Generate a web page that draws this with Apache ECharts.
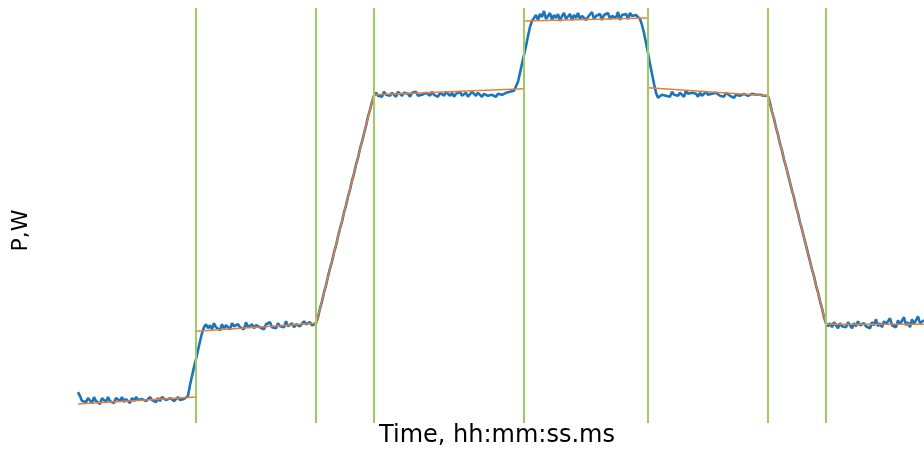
<!DOCTYPE html>
<html>
<head>
<meta charset="utf-8">
<title>P,W</title>
<script src="https://cdn.jsdelivr.net/npm/echarts@6/dist/echarts.min.js"></script>
<style>
  html, body { margin: 0; padding: 0; background: #ffffff; }
  #chart { width: 924px; height: 453px; }
</style>
</head>
<body>
<div id="chart"></div>
<script>
// Power trace, one sample every 20 ms, split by load phase (W)
const sampleMs = 20;
const idleLow   = [31, 27, 22, 24, 21, 25, 23, 20, 26, 22, 24, 19, 25, 23, 21, 26, 22, 24, 20, 25, 23, 22, 26, 21, 24, 23, 20, 25, 22, 26, 23, 21, 24, 25, 22, 20, 26, 23, 24, 21, 25, 22, 26, 24, 23, 21, 25, 27, 22, 24, 26, 23, 25, 24, 26];
const stepUp1   = [27, 38, 47, 56, 64, 73, 82, 90, 96];
const level1    = [99, 95, 98, 94, 100, 96, 97, 93, 99, 95, 98, 96, 94, 100, 97, 95, 99, 96, 98, 94, 101, 96, 97, 99, 95, 98, 100, 96, 97, 94, 99, 97, 101, 96, 98, 95, 100, 97, 99, 96, 102, 97, 98, 100, 96, 99, 101, 97, 98, 102, 99, 97, 101, 98, 100];
const rampUp    = [100, 106, 115, 122, 131, 138, 147, 155, 162, 171, 178, 187, 195, 202, 211, 218, 227, 234, 243, 250, 259, 266, 275, 282, 290, 298, 307, 314, 322, 328];
const level2    = [331, 328, 330, 327, 332, 329, 330, 328, 331, 329, 327, 332, 330, 328, 331, 329, 330, 327, 331, 329, 332, 328, 330, 329, 327, 331, 330, 328, 332, 329, 330, 327, 331, 329, 328, 332, 330, 328, 331, 327, 330, 329, 332, 328, 330, 331, 327, 329, 332, 330, 328, 331, 329, 327, 330, 332, 328, 330, 329, 331, 327, 330, 332, 329, 328, 331, 330, 332, 331, 333];
const stepUp2   = [335, 342, 351, 360, 369, 378, 388, 397, 403];
const peak      = [406, 409, 404, 410, 407, 413, 405, 408, 411, 404, 409, 406, 410, 403, 408, 411, 405, 407, 410, 404, 409, 406, 411, 405, 408, 410, 404, 407, 409, 412, 405, 408, 406, 410, 404, 409, 407, 411, 405, 408, 410, 406, 412, 404, 409, 407, 410, 405, 411, 408, 406, 409, 407, 405];
const stepDown  = [399, 391, 381, 371, 360, 350, 340, 331, 326];
const level3    = [327, 329, 331, 328, 330, 327, 332, 329, 330, 328, 331, 329, 327, 333, 330, 328, 331, 329, 330, 327, 331, 328, 330, 332, 329, 327, 330, 328, 331, 329, 328, 330, 327, 331, 329, 328, 330, 326, 329, 331, 328, 327, 330, 329, 328, 326, 330, 328, 329, 327, 329, 330, 328, 329];
const rampDown  = [328, 321, 312, 305, 296, 289, 280, 273, 264, 257, 249, 241, 233, 226, 217, 210, 201, 194, 186, 178, 170, 162, 154, 147, 138, 131, 122, 115, 106, 100];
const idleHigh  = [97, 100, 96, 101, 98, 95, 100, 97, 99, 96, 101, 98, 95, 100, 97, 102, 98, 96, 100, 97, 99, 95, 101, 98, 104, 97, 100, 96, 102, 99, 97, 105, 98, 100, 96, 103, 99, 97, 106, 98, 101, 96, 104, 99, 97, 107, 100, 98, 103];

// Phase boundaries (ms)
const boundaries = [1180, 2380, 2960, 4460, 5700, 6900, 7480];

// Linear fit per phase: [t0, p0, t1, p1]
const fitSegments = [
  [0, 19, 1180, 26],
  [1180, 92, 2380, 100],
  [2380, 99, 2960, 330],
  [2960, 329, 4460, 335],
  [4460, 403, 5700, 406],
  [5700, 336, 6900, 328],
  [6900, 328, 7480, 99],
  [7480, 99, 8460, 99]
];

const powerValues = [].concat(idleLow, stepUp1, level1, rampUp, level2, stepUp2,
                              peak, stepDown, level3, rampDown, idleHigh);
const powerData = powerValues.map((p, i) => [i * sampleMs, p]);
const tEnd = (powerValues.length - 1) * sampleMs;

const fitSeries = fitSegments.map(s => ({
  type: 'line',
  data: [[s[0], s[1]], [s[2], s[3]]],
  symbol: 'none',
  silent: true,
  z: 4,
  lineStyle: { color: '#ed7d31', width: 1.5 }
}));

const chart = echarts.init(document.getElementById('chart'), null, { renderer: 'canvas' });
chart.setOption({
  animation: false,
  backgroundColor: '#ffffff',
  textStyle: { fontFamily: 'DejaVu Sans' },
  grid: { left: 78, right: 0, top: 8, bottom: 29, containLabel: false },
  xAxis: {
    type: 'value',
    min: 0,
    max: tEnd,
    name: 'Time, hh:mm:ss.ms',
    nameLocation: 'middle',
    nameGap: 1,
    nameTextStyle: { fontFamily: 'DejaVu Sans', fontSize: 24, color: '#000000', padding: [0, 8, 0, 0] },
    axisLine: { show: false },
    axisTick: { show: false },
    axisLabel: { show: false },
    splitLine: { show: false }
  },
  yAxis: {
    type: 'value',
    min: 0,
    max: 416,
    name: 'P,W',
    nameLocation: 'middle',
    nameGap: 46,
    nameTextStyle: { fontFamily: 'DejaVu Sans', fontSize: 22, color: '#000000', padding: [0, 30, 0, 0] },
    axisLine: { show: false },
    axisTick: { show: false },
    axisLabel: { show: false },
    splitLine: { show: false }
  },
  series: [
    {
      type: 'line',
      data: powerData,
      symbol: 'none',
      silent: true,
      z: 3,
      lineStyle: { color: '#1b75bc', width: 2.6 },
      markLine: {
        silent: true,
        symbol: 'none',
        label: { show: false },
        lineStyle: { color: '#9dcc62', width: 2, type: 'solid' },
        data: boundaries.map(t => ({ xAxis: t }))
      }
    }
  ].concat(fitSeries)
});
</script>
</body>
</html>
